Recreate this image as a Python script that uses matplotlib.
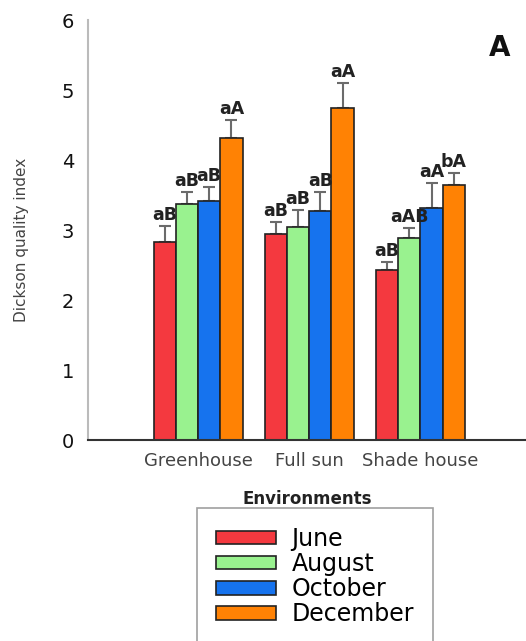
import matplotlib
matplotlib.use("Agg")
import matplotlib.pyplot as plt
import numpy as np

plt.rcParams['font.family'] = ['DejaVu Sans']

environments = ["Greenhouse", "Full sun", "Shade house"]
months = ["June", "August", "October", "December"]
month_colors = ["#F4393F", "#99F28F", "#1673EE", "#FF8204"]

# mean Dickson quality index per month, one list per month (GH, FS, SH)
june = [2.83, 2.94, 2.43]
august = [3.37, 3.04, 2.89]
october = [3.41, 3.27, 3.31]
december = [4.31, 4.74, 3.64]

june_err = [0.23, 0.17, 0.11]
august_err = [0.17, 0.25, 0.14]
october_err = [0.20, 0.27, 0.36]
december_err = [0.26, 0.36, 0.17]

june_lbl = ["aB", "aB", "aB"]
august_lbl = ["aB", "aB", "aAB"]
october_lbl = ["aB", "aB", "aA"]
december_lbl = ["aA", "aA", "bA"]

means = [june, august, october, december]
errs = [june_err, august_err, october_err, december_err]
lbls = [june_lbl, august_lbl, october_lbl, december_lbl]

W, H = 526, 641
fig = plt.figure(figsize=(W / 100, H / 100), dpi=100)
ax = fig.add_axes([88 / W, 1 - 440 / H, 1 - 88 / W, (440 - 20) / H])

x = np.arange(len(environments))
bw = 0.2
handles = []
for i, (m, e, lb) in enumerate(zip(means, errs, lbls)):
    pos = x + (i - 1.5) * bw
    b = ax.bar(pos, m, bw, color=month_colors[i], edgecolor="#222222",
               linewidth=1.2, label=months[i], zorder=2)
    handles.append(b)
    ax.errorbar(pos, m, yerr=[np.zeros(len(m)), e], fmt="none",
                ecolor="#6b6b6b", elinewidth=1.5, capsize=4, capthick=1.5,
                zorder=1)
    for p, v, s, t in zip(pos, m, e, lb):
        ax.text(p, v + s + 0.03, t, ha="center", va="bottom",
                fontsize=12.5, fontweight="bold", color="#222222")

ax.set_xlim(-0.99, 2.95)
ax.set_ylim(0, 6)
ax.set_yticks(range(0, 7))
ax.set_xticks(x)
ax.set_xticklabels(environments, fontsize=13, color="#444444")
ax.tick_params(axis="y", length=0, pad=10, labelsize=14, labelcolor="#111111")
ax.tick_params(axis="x", length=0, pad=9)

for s in ["top", "right"]:
    ax.spines[s].set_visible(False)
ax.spines["left"].set_color("#bbbbbb")
ax.spines["left"].set_linewidth(1.5)
ax.spines["bottom"].set_color("#333333")
ax.spines["bottom"].set_linewidth(1.5)

ax.set_xlabel("Environments", fontsize=12, fontweight="bold",
              color="#222222", labelpad=14)
fig.text(22 / W, 1 - 240 / H, "Dickson quality index", rotation=90,
         ha="center", va="center", fontsize=11, color="#444444")

fig.text(500 / W, 1 - 48 / H, "A", ha="center", va="center",
         fontsize=20, fontweight="bold", color="#111111")

leg = fig.legend(handles=handles, labels=months, loc="upper left",
                 bbox_to_anchor=(197 / W, 1 - 508 / H), borderaxespad=0,
                 fontsize=17, handlelength=2.55, handleheight=0.5,
                 handletextpad=0.65, labelspacing=0.05, borderpad=0.8,
                 fancybox=False, frameon=True)
leg.get_frame().set_edgecolor("#888888")
leg.get_frame().set_linewidth(1.2)

fig.savefig("out.png", dpi=100)
